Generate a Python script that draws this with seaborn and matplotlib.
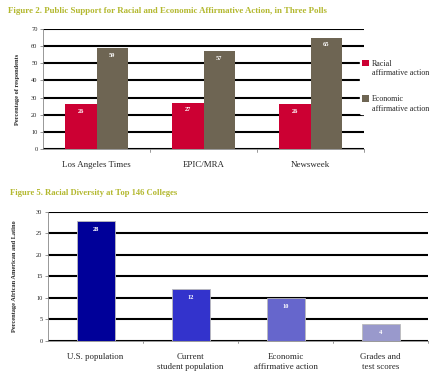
import pandas as pd
import matplotlib.pyplot as plt
import seaborn as sns

# Figure 2 data
polls = ['Los Angeles Times', 'EPIC/MRA', 'Newsweek']
racial = [26, 27, 26]
economic = [59, 57, 65]
series_names = ['Racial\naffirmative action', 'Economic\naffirmative action']

# Figure 5 data
groups = ['U.S. population', 'Current\nstudent population',
          'Economic\naffirmative action', 'Grades and\ntest scores']
diversity = [28, 12, 10, 4]

sns.set_theme(style='white')
plt.rcParams['font.family'] = ['Liberation Serif', 'DejaVu Serif']

TITLE_COLOR = '#B3B82E'
SPINE = '#888888'

fig = plt.figure(figsize=(4.38, 3.79), dpi=100)


def style_axes(ax, ymax, step, xpad):
    ax.set_ylim(0, ymax)
    ax.set_yticks(range(0, ymax + 1, step))
    ax.yaxis.grid(True, color='black', linewidth=1.5)
    ax.set_axisbelow(True)
    for s in ['top', 'right']:
        ax.spines[s].set_visible(False)
    for s in ['left', 'bottom']:
        ax.spines[s].set_color(SPINE)
        ax.spines[s].set_linewidth(0.6)
    ax.tick_params(axis='y', left=True, length=2.5, width=0.6, color=SPINE,
                   labelsize=4.6, pad=1.5)
    ax.tick_params(axis='x', bottom=False, labelsize=6.4, pad=xpad)


# ---- Figure 2 ----
df1 = pd.DataFrame({
    'poll': polls * 2,
    'value': racial + economic,
    'type': [series_names[0]] * 3 + [series_names[1]] * 3,
})
ax1 = fig.add_axes([0.0982, 0.6069, 0.7329, 0.3166])
sns.barplot(ax=ax1, data=df1, x='poll', y='value', hue='type',
            palette=['#CC0033', '#6E6553'], width=0.58, gap=0,
            saturation=1, edgecolor='none')
style_axes(ax1, 70, 10, 3)
ax1.set_xlim(-0.5, 2.5)
ax1.set_xlabel('')
ax1.set_ylabel('Percentage of respondents', fontsize=4.6, fontweight='bold', labelpad=8)
for c in ax1.containers:
    ax1.bar_label(c, padding=-7, color='white', fontsize=4.6, fontweight='bold')
for xb in [0.5, 1.5, 2.5]:
    ax1.plot([xb, xb], [0, -1.8], color=SPINE, lw=0.6, clip_on=False)
leg = ax1.legend(loc='upper left', bbox_to_anchor=(0.822, 0.847), bbox_transform=fig.transFigure,
                 frameon=True, facecolor='white', edgecolor='white', framealpha=1,
                 fontsize=5.8, handlelength=0.9, handleheight=0.9, handletextpad=0.35,
                 labelspacing=2.3, borderpad=0.2, borderaxespad=0)
# put each swatch next to the first line of its two-line label
for col in leg._legend_handle_box.get_children():
    for row in col.get_children():
        row.align = 'top'
fig.text(0.018, 0.972, 'Figure 2. Public Support for Racial and Economic Affirmative Action, in Three Polls',
         color=TITLE_COLOR, fontsize=6.4, fontweight='bold', va='center')

# ---- Figure 5 ----
df2 = pd.DataFrame({'group': groups, 'value': diversity})
ax2 = fig.add_axes([0.1096, 0.1003, 0.8676, 0.3404])
sns.barplot(ax=ax2, data=df2, x='group', y='value', hue='group',
            palette=['#000099', '#3333CC', '#6666CC', '#9999CC'], width=0.4,
            saturation=1, edgecolor='#BBBBBB', linewidth=0.6, legend=False)
style_axes(ax2, 30, 5, 3)
ax2.set_xlim(-0.5, 3.5)
ax2.set_xlabel('')
ax2.set_ylabel('Percentage African American and Latino', fontsize=4.6, fontweight='bold', labelpad=14)
for c in ax2.containers:
    ax2.bar_label(c, padding=-8, color='white', fontsize=4.6, fontweight='bold')
for xb in [0.5, 1.5, 2.5, 3.5]:
    ax2.plot([xb, xb], [0, -0.45], color=SPINE, lw=0.6, clip_on=False)
fig.text(0.023, 0.491, 'Figure 5. Racial Diversity at Top 146 Colleges',
         color=TITLE_COLOR, fontsize=6.2, fontweight='bold', va='center')

fig.savefig('out.png', dpi=100)
